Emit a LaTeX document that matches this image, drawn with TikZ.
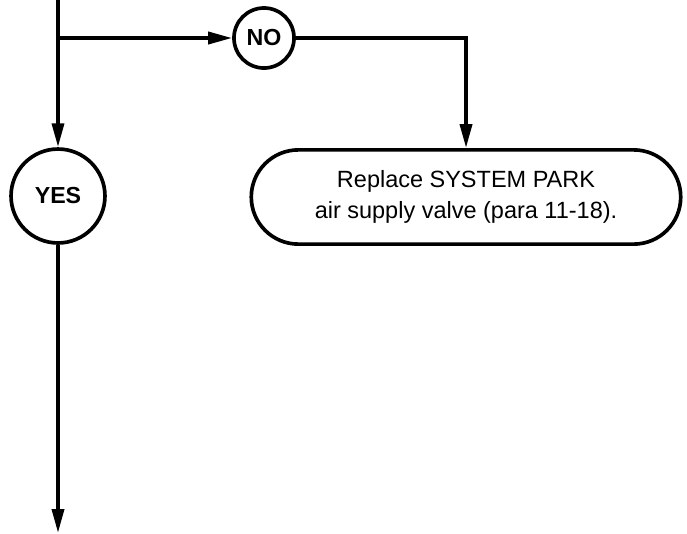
\documentclass[tikz,border=0pt]{standalone}
\usepackage{fontspec}
\setmainfont{Liberation Sans}
\usetikzlibrary{arrows.meta,shapes.misc}

\tikzset{
  ablauf/.style={line width=2.6pt, -{Triangle[length=17pt,width=8.5pt]}},
  kreis/.style={draw, circle, line width=2.6pt, inner sep=0pt,
    font=\fontsize{16.5}{20}\selectfont\bfseries},
  kasten/.style={draw, rounded rectangle, line width=2.6pt,
    minimum width=312pt, minimum height=67pt, align=center,
    font=\fontsize{16.7}{22}\selectfont},
}

\begin{document}
\begin{tikzpicture}[x=0.711pt,y=-0.711pt]
  \useasboundingbox (0,0) rectangle (687,533);
  % Knoten:
  \node[kreis, minimum size=42.7pt] (nein) at (264,38) {NO};
  \node[kreis, minimum size=66.8pt] (ja) at (58,196) {YES};
  \node[kasten] (ersatz) at (466,197)
    {Replace SYSTEM PARK\\air supply valve (para 11-18).};
  % Hilfspunkte:
  \coordinate (start) at (58,0);
  \coordinate (abzweig) at (58,38);
  \coordinate (ecke) at (466,38);
  \coordinate (ende) at (58,533);
  % Verbindungen:
  \draw[ablauf] (start) -- (ja);
  \draw[ablauf] (abzweig) -- (nein);
  \draw[ablauf] (nein) -- (ecke) -- (ersatz);
  \draw[ablauf] (ja) -- (ende);
\end{tikzpicture}
\end{document}
